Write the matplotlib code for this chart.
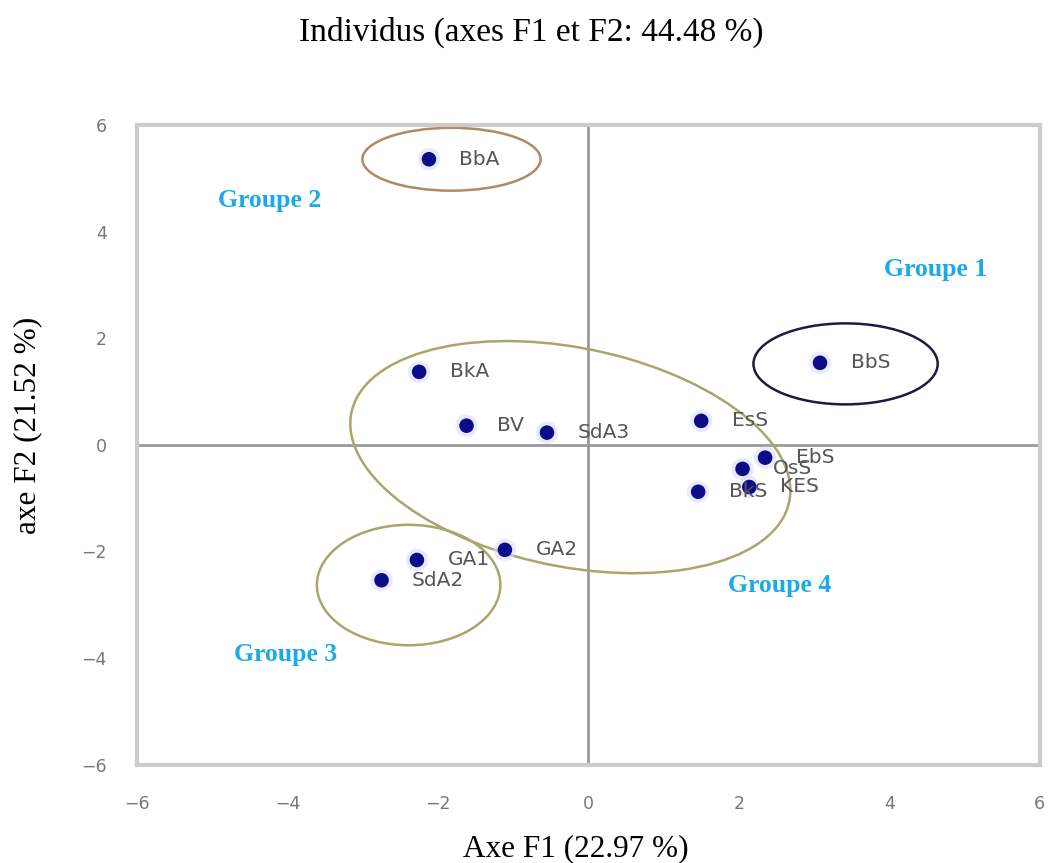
import numpy as np
import matplotlib.pyplot as plt
from matplotlib.patches import Ellipse

########################## Data ##########################

names = ['BbA', 'BkA', 'BV', 'SdA3', 'EsS', 'BbS', 'EbS', 'OsS', 'KES', 'BkS', 'GA2', 'GA1', 'SdA2']
F1 = [-2.12, -2.25, -1.62, -0.55, 1.50, 3.08, 2.35, 2.05, 2.14, 1.46, -1.11, -2.28, -2.75]
F2 = [5.36, 1.37, 0.36, 0.23, 0.45, 1.54, -0.24, -0.45, -0.79, -0.88, -1.97, -2.16, -2.54]

group_names = ['Groupe 1', 'Groupe 2', 'Groupe 3', 'Groupe 4']
group_text_x = [4.62, -4.24, -4.03, 2.54]
group_text_y = [3.29, 4.59, -3.93, -2.63]

# ellipses : centre, width, height, angle (data units)
ell_cx = [3.42, -1.82, -2.39, -0.24]
ell_cy = [1.52, 5.36, -2.63, -0.23]
ell_w = [2.45, 2.37, 2.44, 6.1]
ell_h = [1.52, 1.18, 2.26, 4.0]
ell_ang = [0, 0, 0, -22]
ell_col = ['#1c1c40', '#b08a64', '#aaa66a', '#aaa66a']

ticks = [-6, -4, -2, 0, 2, 4, 6]

########################## Plot ##########################

fig = plt.figure(figsize=(10.63, 8.63), dpi=100)
ax = fig.add_axes([0.129, 0.114, 0.849, 0.741])

ax.set_xlim(-6, 6)
ax.set_ylim(-6, 6)

ax.axhline(0, color='#9a9a9a', lw=2, zorder=1)
ax.axvline(0, color='#9a9a9a', lw=2, zorder=1)

for i in range(len(ell_cx)):
    ax.add_patch(Ellipse((ell_cx[i], ell_cy[i]), ell_w[i], ell_h[i], angle=ell_ang[i],
                         fill=False, edgecolor=ell_col[i], lw=1.8, zorder=2))

# halo + points
ax.scatter(F1, F2, s=260, color='#dcdcff', alpha=0.6, edgecolors='none', zorder=3)
ax.scatter(F1, F2, s=110, color='#0c0c88', edgecolors='none', zorder=4)

for i, nm in enumerate(names):
    ax.annotate(nm, (F1[i], F2[i]), xytext=(22, 0), textcoords='offset points',
                va='center', ha='left', fontsize=14.5, color='#555555', zorder=5)

for i, g in enumerate(group_names):
    ax.text(group_text_x[i], group_text_y[i], g, ha='center', va='center',
            fontsize=18.5, fontweight='bold', color='#1aaae8', family='Liberation Serif')

ax.set_xticks(ticks)
ax.set_yticks(ticks)
ax.tick_params(length=0, pad=22, labelsize=12.5, labelcolor='#777777')

for sp in ax.spines.values():
    sp.set_color('#cccccc')
    sp.set_linewidth(3)

fig.text(0.5, 0.962, 'Individus (axes F1 et F2: 44.48 %)', ha='center', va='center',
         fontsize=24, family='Liberation Serif')
fig.text(0.542, 0.017, 'Axe F1 (22.97 %)', ha='center', va='center',
         fontsize=22.5, family='Liberation Serif')
fig.text(0.026, 0.507, 'axe F2 (21.52 %)', ha='center', va='center', rotation=90,
         fontsize=22.5, family='Liberation Serif')

fig.savefig('out.png', dpi=100)
